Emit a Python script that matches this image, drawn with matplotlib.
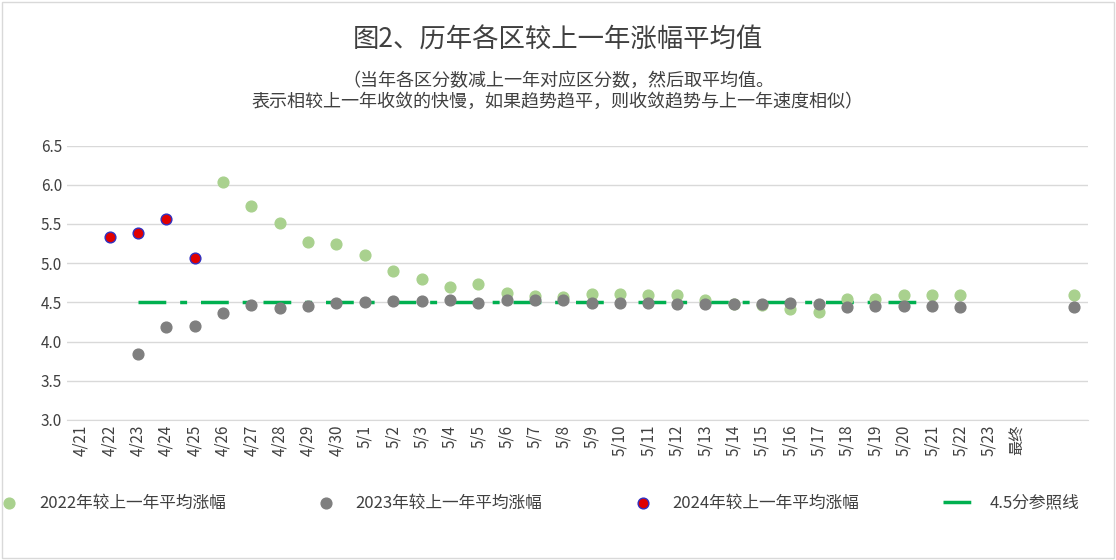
import numpy as np
import matplotlib.pyplot as plt
from matplotlib import font_manager

# 找一个可用的中文字体
cjk = [f.name for f in font_manager.fontManager.ttflist if 'CJK' in f.name]
pref = [n for n in ['Noto Sans CJK SC', 'Noto Sans CJK JP', 'Noto Sans CJK TC', 'Noto Sans CJK KR'] if n in cjk]
plt.rcParams['font.family'] = (pref or cjk[:1]) + ['DejaVu Sans']

dates = ['4/21', '4/22', '4/23', '4/24', '4/25', '4/26', '4/27', '4/28', '4/29', '4/30',
         '5/1', '5/2', '5/3', '5/4', '5/5', '5/6', '5/7', '5/8', '5/9', '5/10', '5/11',
         '5/12', '5/13', '5/14', '5/15', '5/16', '5/17', '5/18', '5/19', '5/20', '5/21',
         '5/22', '5/23', '最终', '', '']

nan = np.nan
y2022 = [nan] * 5 + [6.03, 5.73, 5.51, 5.27, 5.25, 5.10, 4.90, 4.80, 4.70, 4.74, 4.62, 4.58,
                     4.57, 4.61, 4.61, 4.60, 4.60, 4.53, 4.48, 4.47, 4.41, 4.38, 4.54, 4.54,
                     4.60, 4.60, 4.60, nan, nan, nan, 4.60]
y2023 = [nan] * 2 + [3.84, 4.19, 4.20, 4.37, 4.47, 4.43, 4.46, 4.49, 4.51, 4.52, 4.52, 4.53,
                     4.49, 4.53, 4.53, 4.53, 4.49, 4.49, 4.49, 4.48, 4.48, 4.48, 4.48, 4.49,
                     4.48, 4.44, 4.45, 4.45, 4.45, 4.44, nan, nan, nan, 4.44]
y2024 = [nan, 5.33, 5.38, 5.56, 5.07] + [nan] * 31
ref = [nan] * 2 + [4.5] * 29 + [nan] * 5

x = np.arange(len(dates))

fig = plt.figure(figsize=(11.16, 5.6), dpi=100)
ax = fig.add_axes([0.06, 0.25, 0.915, 0.49])

ax.plot(x, ref, color='#00b050', lw=2.5, dashes=(8, 4, 2, 4), zorder=1, label='4.5分参照线')
ax.scatter(x, y2022, s=60, color='#a9d18e', zorder=3, label='2022年较上一年平均涨幅')
ax.scatter(x, y2023, s=60, color='#7f7f7f', zorder=3, label='2023年较上一年平均涨幅')
ax.scatter(x, y2024, s=60, color='#e00000', edgecolor='#3030c0', lw=1, zorder=4,
           label='2024年较上一年平均涨幅')

ax.set_ylim(3.0, 6.5)
ax.set_yticks(np.arange(3.0, 6.51, 0.5))
ax.set_yticklabels([f'{v:.1f}' for v in np.arange(3.0, 6.51, 0.5)])
ax.set_xlim(-0.5, len(dates) - 0.5)
ax.set_xticks(x)
ax.set_xticklabels(dates, rotation=90)
ax.tick_params(length=0, labelsize=11, colors='#404040')
ax.grid(axis='y', color='#d9d9d9', lw=1)
for s in ['top', 'right', 'left']:
    ax.spines[s].set_visible(False)
ax.spines['bottom'].set_color('#d9d9d9')
ax.set_axisbelow(True)

fig.text(0.5, 0.915, '图2、历年各区较上一年涨幅平均值', ha='center', fontsize=19, color='#404040')
fig.text(0.5, 0.81, '（当年各区分数减上一年对应区分数，然后取平均值。\n表示相较上一年收敛的快慢，如果趋势趋平，则收敛趋势与上一年速度相似）',
         ha='center', fontsize=13, color='#404040', linespacing=1.2)

h, l = ax.get_legend_handles_labels()
order = [1, 2, 3, 0]
fig.legend([h[i] for i in order], [l[i] for i in order], loc='lower center', ncol=4,
           bbox_to_anchor=(0.48, 0.06), frameon=False, fontsize=12, columnspacing=5,
           labelcolor='#404040')

fig.patches.append(plt.Rectangle((0.002, 0.004), 0.996, 0.992, transform=fig.transFigure,
                                 fill=False, edgecolor='#d9d9d9', lw=1))
fig.savefig('out.png')
